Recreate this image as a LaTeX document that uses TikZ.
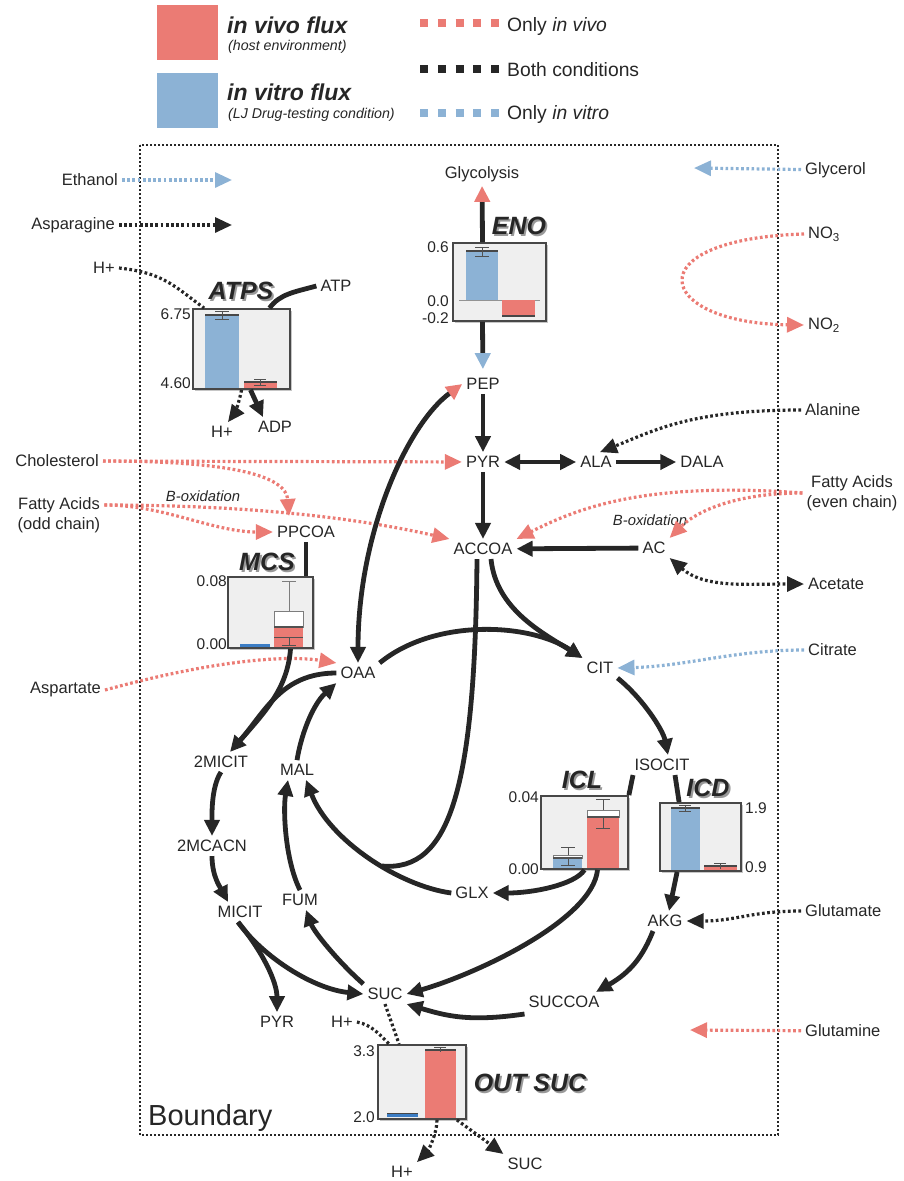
\documentclass[tikz,border=0pt]{standalone}
\usepackage{fontspec}
\setmainfont{Liberation Sans}
\usetikzlibrary{arrows.meta,shadows}
\definecolor{VivoRed}{HTML}{EB7B74}
\definecolor{VitroBlue}{HTML}{8CB2D5}
\definecolor{DeepBlue}{HTML}{3C7DC4}
\definecolor{Ink}{HTML}{262626}
\definecolor{ChartGray}{HTML}{EFEFEF}
\newcommand{\metfont}{\fontsize{16.5}{20}\selectfont}
\newcommand{\axisfont}{\fontsize{15.5}{17}\selectfont}
\newcommand{\titlefont}{\fontsize{25}{28}\selectfont\bfseries\itshape}
\newcommand{\shadowtext}[1]{\rlap{\kern1.8pt\raisebox{-1.8pt}{\color{black!40}#1}}#1}

\begin{document}
\begin{tikzpicture}[x=1pt,y=-1pt,
    met/.style={font=\metfont,text=Ink,inner sep=4pt},
    axislbl/.style={font=\axisfont,text=Ink,inner sep=2pt},
    charttitle/.style={font=\titlefont,text=Ink,inner sep=0pt},
    chart/.style={draw=Ink!85,line width=1.8pt,fill=ChartGray,inner sep=0pt,
      drop shadow={shadow xshift=2pt,shadow yshift=-2pt,opacity=0.45}},
    fluxtip/.tip={Triangle[length=16pt,width=15pt]},
    vivotip/.tip={Triangle[length=16pt,width=15pt,color=VivoRed]},
    vitrotip/.tip={Triangle[length=16pt,width=15pt,color=VitroBlue]},
    dottip/.tip={Triangle[length=17pt,width=15pt]},
    link/.style={draw=Ink,line width=4.8pt},
    flux/.style={link,-fluxtip},
    dotline/.style={line width=3.2pt,dash pattern=on 2.7pt off 2.5pt},
    bothdot/.style={dotline,draw=Ink,-dottip},
    vivodot/.style={dotline,draw=VivoRed,-dottip},
    vitrodot/.style={dotline,draw=VitroBlue,-dottip},
    errbar/.style={draw=Ink!80,line width=1pt}]
  \useasboundingbox (0,0) rectangle (903,1181);

  \node[fill=VivoRed,minimum width=61pt,minimum height=55pt,inner sep=0pt] (keyvivo) at (187.5,32) {};
  \node[fill=VitroBlue,minimum width=61pt,minimum height=55pt,inner sep=0pt] (keyvitro) at (187.5,100.5) {};
  \node[anchor=base west,font=\fontsize{23}{26}\selectfont\bfseries\itshape,text=Ink,inner sep=0pt] (keyvivotxt) at (227,33) {in vivo flux};
  \node[anchor=base west,font=\fontsize{14.2}{16}\selectfont\itshape,text=Ink,inner sep=0pt] (keyvivosub) at (228,50) {(host environment)};
  \node[anchor=base west,font=\fontsize{23}{26}\selectfont\bfseries\itshape,text=Ink,inner sep=0pt] (keyvitrotxt) at (227,100) {in vitro flux};
  \node[anchor=base west,font=\fontsize{14.2}{16}\selectfont\itshape,text=Ink,inner sep=0pt] (keyvitrosub) at (228,118) {(LJ Drug-testing condition)};
  \draw[VivoRed,line width=8pt,dash pattern=on 8pt off 9.75pt] (420,23) -- (499,23);
  \draw[Ink,line width=8pt,dash pattern=on 8pt off 9.75pt] (420,69) -- (499,69);
  \draw[VitroBlue,line width=8pt,dash pattern=on 8pt off 9.75pt] (420,113) -- (499,113);
  \node[anchor=base west,font=\fontsize{19.3}{22}\selectfont,text=Ink,inner sep=0pt] (keyonlyvivo) at (507,31) {Only \textit{in vivo}};
  \node[anchor=base west,font=\fontsize{19.3}{22}\selectfont,text=Ink,inner sep=0pt] (keyboth) at (507,76) {Both conditions};
  \node[anchor=base west,font=\fontsize{19.3}{22}\selectfont,text=Ink,inner sep=0pt] (keyonlyvitro) at (507,119) {Only \textit{in vitro}};

  \draw[Ink,line width=2pt,dash pattern=on 2pt off 2pt] (140,145) rectangle (778,1135);
  \node[anchor=base west,font=\fontsize{29}{32}\selectfont,text=Ink,inner sep=0pt] (boundarylbl) at (148,1125) {Boundary};

  \node[met,anchor=east] (ethanol) at (122,180) {Ethanol};
  \node[met,anchor=east] (asparagine) at (119,225) {Asparagine};
  \node[met,anchor=east] (hleft) at (119,268) {H+};
  \node[met,anchor=east] (cholesterol) at (103,461) {Cholesterol};
  \node[met,align=center] (faodd) at (59,515) {Fatty Acids\\(odd chain)};
  \node[met,anchor=east] (aspartate) at (105,690) {Aspartate};
  \node[met,anchor=west] (glycerol) at (801,170) {Glycerol};
  \node[met,anchor=west] (nitrate) at (804,234) {NO\textsubscript{3}};
  \node[met,anchor=west] (nitrite) at (804,325) {NO\textsubscript{2}};
  \node[met,anchor=west] (alanine) at (801,410) {Alanine};
  \node[met,align=center] (faeven) at (852,493) {Fatty Acids\\(even chain)};
  \node[met,anchor=west] (acetate) at (804,584) {Acetate};
  \node[met,anchor=west] (citrate) at (804,650) {Citrate};
  \node[met,anchor=west] (glutamate) at (801,911) {Glutamate};
  \node[met,anchor=west] (glutamine) at (801,1031) {Glutamine};

  \node[met] (glyco) at (482,174) {Glycolysis};
  \node[met] (pep) at (483,384) {PEP};
  \node[met] (pyr) at (483,462) {PYR};
  \node[met] (ala) at (596,462) {ALA};
  \node[met] (dala) at (702,462) {DALA};
  \node[met] (accoa) at (483,549) {ACCOA};
  \node[met] (ac) at (654,548) {AC};
  \node[met] (ppcoa) at (306,532) {PPCOA};
  \node[met] (oaa) at (358,673) {OAA};
  \node[met] (cit) at (600,668) {CIT};
  \node[met] (isocit) at (662,765) {ISOCIT};
  \node[met] (akg) at (665,921) {AKG};
  \node[met] (succoa) at (564,1002) {SUCCOA};
  \node[met] (suc) at (385,994) {SUC};
  \node[met] (glx) at (472,893) {GLX};
  \node[met] (mal) at (297,770) {MAL};
  \node[met] (fum) at (300,900) {FUM};
  \node[met] (micit) at (240,912) {MICIT};
  \node[met] (mcacn) at (212,846) {2MCACN};
  \node[met] (micitA) at (221,762) {2MICIT};
  \node[met] (pyrB) at (277,1022) {PYR};
  \node[met] (atp) at (336,286) {ATP};
  \node[met] (adp) at (275,427) {ADP};
  \node[met] (hatps) at (222,432) {H+};
  \node[met] (hsuc) at (342,1022) {H+};
  \node[met] (hout) at (402,1172) {H+};
  \node[met] (sucout) at (525,1164) {SUC};
  \node[font=\fontsize{14.8}{17}\selectfont\itshape,text=Ink] (betaodd) at (203,496) {B-oxidation};
  \node[font=\fontsize{14.8}{17}\selectfont\itshape,text=Ink] (betaeven) at (650,520) {B-oxidation};

  \node[chart,minimum width=97pt,minimum height=80pt] (atps) at (241.5,349) {};
  \node[chart,minimum width=93pt,minimum height=78pt] (eno) at (499.5,282) {};
  \node[chart,minimum width=85pt,minimum height=71pt] (mcs) at (270.5,612.5) {};
  \node[chart,minimum width=87pt,minimum height=73pt] (icl) at (584.5,832.5) {};
  \node[chart,minimum width=81pt,minimum height=68pt] (icd) at (700.5,837) {};
  \node[chart,minimum width=88pt,minimum height=74pt] (outsuc) at (422,1082) {};
  \node[charttitle] (atpsname) at (241,292) {\shadowtext{ATPS}};
  \node[charttitle] (enoname) at (519,227) {\shadowtext{ENO}};
  \node[charttitle] (mcsname) at (267,563) {\shadowtext{MCS}};
  \node[charttitle] (iclname) at (582,781) {\shadowtext{ICL}};
  \node[charttitle] (icdname) at (708,789) {\shadowtext{ICD}};
  \node[charttitle] (outsucname) at (530,1084) {\shadowtext{OUT SUC}};
  \node[axislbl,anchor=east] (atpshi) at (193,314) {6.75};
  \node[axislbl,anchor=east] (atpslo) at (193,383) {4.60};
  \node[axislbl,anchor=east] (enohi) at (451,247) {0.6};
  \node[axislbl,anchor=east] (enozero) at (451,301) {0.0};
  \node[axislbl,anchor=east] (enolo) at (451,318) {-0.2};
  \node[axislbl,anchor=east] (mcshi) at (229,581) {0.08};
  \node[axislbl,anchor=east] (mcslo) at (229,644) {0.00};
  \node[axislbl,anchor=east] (iclhi) at (541,797) {0.04};
  \node[axislbl,anchor=east] (icllo) at (541,869) {0.00};
  \node[axislbl,anchor=west] (icdhi) at (743,808) {1.9};
  \node[axislbl,anchor=west] (icdlo) at (743,867) {0.9};
  \node[axislbl,anchor=east] (outsuchi) at (377,1051) {3.3};
  \node[axislbl,anchor=east] (outsuclo) at (377,1117) {2.0};

  \fill[VitroBlue] (205,315) rectangle (239,388);
  \draw[Ink!85,line width=2pt] (205,315) -- (239,315);
  \draw[errbar] (222,311) -- (222,319) (215,311) -- (229,311) (215,319) -- (229,319);
  \fill[VivoRed] (244,382) rectangle (277,388);
  \draw[Ink!85,line width=1.5pt] (244,382) -- (277,382);
  \draw[errbar] (260,379) -- (260,385) (254,379) -- (266,379) (254,385) -- (266,385);

  \draw[Ink!50,line width=0.8pt] (459,300) -- (540,300);
  \fill[VitroBlue] (466,251) rectangle (498,300);
  \draw[Ink!85,line width=2pt] (466,251) -- (498,251);
  \draw[errbar] (482,247) -- (482,256) (475,247) -- (489,247) (475,256) -- (489,256);
  \fill[VivoRed] (502,300) rectangle (535,316);
  \draw[Ink!85,line width=1.5pt] (502,316) -- (535,316);

  \fill[DeepBlue] (240,644) rectangle (270,647);
  \draw[errbar,draw=Ink!60] (289,581) -- (289,611) (282,581) -- (296,581);
  \filldraw[fill=white,draw=Ink!60,line width=1pt] (274,611) rectangle (303,627);
  \fill[VivoRed] (274,627) rectangle (303,647);
  \draw[Ink!80,line width=1.5pt] (274,627) -- (303,627);
  \draw[errbar] (274,637) -- (303,637) (289,637) -- (289,645) (282,645) -- (296,645);

  \draw[errbar] (568,847) -- (568,855) (561,847) -- (575,847);
  \filldraw[fill=white,draw=Ink!60,line width=1pt] (553,855) rectangle (582,858);
  \fill[VitroBlue] (553,858) rectangle (582,868);
  \draw[Ink!80,line width=1.2pt] (553,858) -- (582,858);
  \draw[errbar] (568,858) -- (568,865) (561,865) -- (575,865);
  \draw[errbar] (603,799) -- (603,810) (596,799) -- (610,799);
  \filldraw[fill=white,draw=Ink!60,line width=1pt] (587,810) rectangle (619,817);
  \fill[VivoRed] (587,817) rectangle (619,868);
  \draw[Ink!80,line width=1.2pt] (587,817) -- (619,817);
  \draw[errbar] (603,817) -- (603,828) (596,828) -- (610,828);

  \fill[VitroBlue] (671,808) rectangle (700,870);
  \draw[Ink!85,line width=2pt] (671,808) -- (700,808);
  \draw[errbar] (685,805) -- (685,811) (679,805) -- (691,805) (679,811) -- (691,811);
  \fill[VivoRed] (704,866) rectangle (737,870);
  \draw[Ink!85,line width=1.2pt] (704,866) -- (737,866);
  \draw[errbar] (720,863) -- (720,869) (714,863) -- (726,863);

  \fill[DeepBlue] (387,1113) rectangle (418,1117);
  \draw[Ink!85,line width=1pt] (387,1113) -- (418,1113);
  \fill[VivoRed] (425,1050) rectangle (456,1118);
  \draw[Ink!85,line width=1.5pt] (425,1050) -- (456,1050);
  \draw[errbar] (440,1047) -- (440,1052) (434,1047) -- (446,1047);

  \coordinate (ethanolend) at (232,180);
  \coordinate (asparagineend) at (232,225);
  \coordinate (glycerolend) at (694,168);
  \coordinate (glutamineend) at (690,1030);
  \coordinate (malmerge) at (382,866);
  \draw[vitrodot] (ethanol) -- (ethanolend);
  \draw[bothdot] (asparagine) -- (asparagineend);
  \draw[vitrodot] (glycerol) -- (glycerolend);
  \draw[vivodot] (glutamine) -- (glutamineend);
  \draw[vivodot] (nitrate.west) .. controls +(-170,5) and +(-150,-2) .. (nitrite.west);
  \draw[bothdot] (alanine.west) .. controls +(-110,0) and +(55,-22) .. ([xshift=4pt]ala.north);
  \draw[vivodot] (cholesterol) -- (pyr);
  \draw[vivodot] (cholesterol.east) .. controls +(130,0) and +(-3,-40) .. ([xshift=-17pt,yshift=6pt]ppcoa.north);
  \draw[vivodot] ([yshift=10pt]faodd.east) .. controls +(60,0) and +(-60,0) .. (ppcoa.west);
  \draw[vivodot] ([yshift=10pt]faodd.east) .. controls +(120,0) and +(-110,-25) .. (accoa.north west);
  \draw[vivodot] (aspartate.east) .. controls +(110,-30) and +(-50,-8) .. (oaa.north west);
  \draw[vivodot] (faeven.west) .. controls +(-160,-12) and +(60,-30) .. (accoa.north east);
  \draw[vivodot] (faeven.west) .. controls +(-70,0) and +(25,-25) .. (ac.north east);
  \draw[bothdot,dottip-dottip] (ac.south east) .. controls +(35,30) and +(-60,0) .. (acetate.west);
  \draw[vitrodot] (citrate.west) .. controls +(-70,0) and +(70,-2) .. (cit.east);
  \draw[bothdot] (glutamate.west) .. controls +(-50,0) and +(50,0) .. (akg.east);

  \draw[bothdot,-] (hleft.east) .. controls +(45,5) and +(-30,-22) .. ([xshift=12pt]atps.north west);
  \draw[link] ([xshift=28pt]atps.north) .. controls +(10,-14) and +(-22,6) .. (atp.west);
  \draw[bothdot] (atps.south) .. controls +(-2,12) and +(6,-8) .. ([xshift=6pt]hatps.north);
  \draw[flux] ([xshift=9pt]atps.south) -- ([xshift=-12pt]adp.north);
  \draw[link,-vivotip] ([xshift=-17pt]eno.north) -- (glyco);
  \draw[link,-vitrotip,shorten >=5pt] ([xshift=-17pt]eno.south) -- (pep);

  \draw[flux] (pep) -- (pyr);
  \draw[link,fluxtip-fluxtip] (pyr) -- (ala);
  \draw[flux] (ala) -- (dala);
  \draw[flux] (pyr) -- (accoa);
  \draw[flux] (ac) -- (accoa);
  \draw[link,vivotip-fluxtip] (pep.west) .. controls +(-55,40) and +(0,-130) .. (oaa.north);
  \draw[flux] (oaa.north east) .. controls +(55,-45) and +(-53,-35) .. (cit.north west);
  \draw[flux] ([xshift=8pt]accoa.south) .. controls +(5,50) and +(-40,-25) .. (cit.north west);
  \draw[link] ([xshift=-6pt]accoa.south) .. controls +(-2,230) and +(68,6) .. (malmerge);
  \draw[flux] (glx.west) .. controls +(-52,-7) and +(23,60) .. ([xshift=9pt]mal.south);
  \draw[flux] (mal.north) .. controls +(5,-30) and +(-22,20) .. (oaa.south west);
  \draw[flux] (oaa.west) .. controls +(-55,0) and +(35,-40) .. ([xshift=9pt]micitA.north);
  \draw[link,shorten >=12pt] ([xshift=20pt]mcs.south) .. controls +(-3,40) and +(35,-40) .. ([xshift=9pt]micitA.north);
  \draw[link] (ppcoa.south) -- (mcs.north -| ppcoa.south);

  \draw[flux] (cit.south east) .. controls +(25,20) and +(-5,-25) .. ([xshift=6pt]isocit.north);
  \draw[link] ([xshift=-29pt]isocit.south) -- (icl.north east);
  \draw[link] ([xshift=13pt]isocit.south) -- ([xshift=20pt]icd.north west);
  \draw[flux] ([xshift=18pt]icd.south west) -- ([xshift=4pt]akg.north);
  \draw[flux] ([xshift=-12pt]akg.south) .. controls +(-10,25) and +(35,-20) .. ([xshift=32pt]succoa.north);
  \draw[flux] ([yshift=-12pt]succoa.west) .. controls +(-55,8) and +(40,12) .. (suc.south east);
  \draw[flux] (icl.south) .. controls +(-10,15) and +(40,0) .. (glx.east);
  \draw[flux] ([xshift=13pt]icl.south) .. controls +(-5,50) and +(70,-20) .. (suc.east);

  \draw[flux] (micitA.south) .. controls +(-10,15) and +(0,-20) .. (mcacn.north);
  \draw[flux] (mcacn.south) .. controls +(0,20) and +(-8,-15) .. ([xshift=-12pt]micit.north);
  \draw[flux] ([xshift=-2pt]micit.south) .. controls +(25,35) and +(-50,-5) .. (suc.west);
  \draw[flux] ([xshift=-2pt]micit.south) .. controls +(25,30) and +(0,-30) .. (pyrB.north);
  \draw[flux] (suc.north west) .. controls +(-25,-22) and +(8,22) .. ([xshift=6pt]fum.south);
  \draw[flux] (fum.north) .. controls +(-15,-30) and +(-5,30) .. ([xshift=-9pt]mal.south);

  \draw[bothdot,-] (hsuc.east) .. controls +(15,3) and +(-10,-10) .. ([xshift=12pt]outsuc.north west);
  \draw[bothdot,-] (suc.south) -- ([xshift=22pt]outsuc.north west);
  \draw[bothdot] ([xshift=15pt]outsuc.south) .. controls +(0,15) and +(10,-10) .. (hout.north east);
  \draw[bothdot] ([xshift=-10pt]outsuc.south east) -- (sucout.north west);
\end{tikzpicture}
\end{document}
